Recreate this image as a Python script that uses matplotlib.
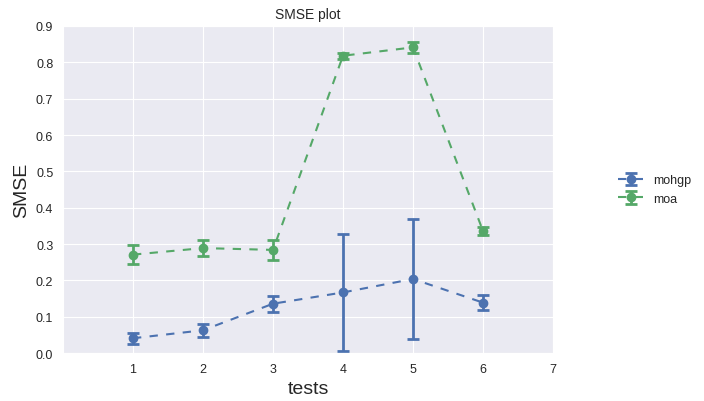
import matplotlib
matplotlib.use("Agg")
import matplotlib.pyplot as plt
import seaborn as sns

tests = [1, 2, 3, 4, 5, 6]

mohgp_mean = [0.041, 0.063, 0.136, 0.167, 0.204, 0.139]
mohgp_err = [0.015, 0.018, 0.022, 0.160, 0.164, 0.020]

moa_mean = [0.271, 0.289, 0.284, 0.818, 0.841, 0.336]
moa_err = [0.026, 0.021, 0.028, 0.008, 0.015, 0.010]

sns.set_style("darkgrid")
plt.rcParams['font.family'] = ['Liberation Sans', 'DejaVu Sans']

fig = plt.figure(figsize=(7.04, 4.02), dpi=100)
ax = fig.add_axes([0.0895, 0.119, 0.696, 0.814])

# long even dashes, like the old matplotlib '--'
dash = (0, (4, 4))
ax.errorbar(tests, mohgp_mean, yerr=mohgp_err, fmt='o', ls=dash, color='#4C72B0',
            capsize=4, capthick=2, elinewidth=2, lw=1.5, ms=6, label='mohgp')
ax.errorbar(tests, moa_mean, yerr=moa_err, fmt='o', ls=dash, color='#55A868',
            capsize=4, capthick=2, elinewidth=2, lw=1.5, ms=6, label='moa')

ax.set_xlim(0, 7)
ax.set_ylim(0, 0.9)
ax.set_xticks([1, 2, 3, 4, 5, 6, 7])
ax.set_yticks([i / 10 for i in range(10)])
ax.tick_params(labelsize=9)
ax.set_title("SMSE plot", fontsize=10)
ax.set_xlabel("tests", fontsize=14)
ax.set_ylabel("SMSE", fontsize=14)

ax.legend(loc='center left', bbox_to_anchor=(1.11, 0.5), frameon=False, fontsize=9)

fig.savefig("out.png", dpi=100)
